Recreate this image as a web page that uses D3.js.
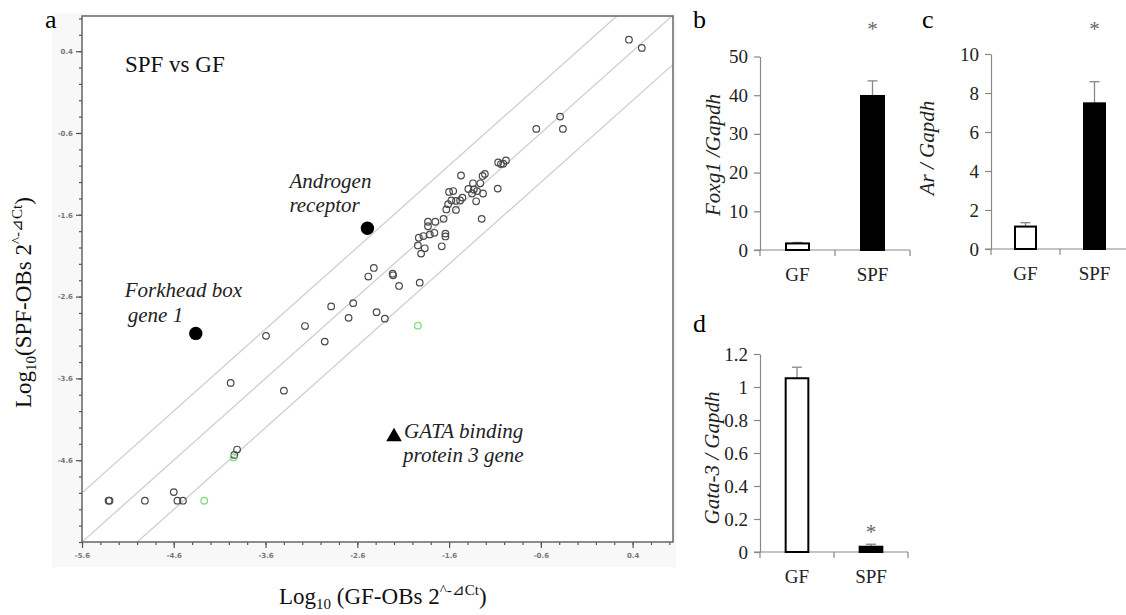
<!DOCTYPE html>
<html>
<head>
<meta charset="utf-8">
<script src="https://cdn.jsdelivr.net/npm/d3@7"></script>
<style>
body { margin: 0; background: #fff; }
svg { display: block; }
text { font-family: "Liberation Serif", "Times New Roman", serif; }
</style>
</head>
<body>
<svg id="fig" width="1126" height="615"></svg>
<script>
"use strict";

/* global d3 */

// panel a: log10 expression, GF (x) vs SPF (y)
var xTicksA = [-5.6, -4.6, -3.6, -2.6, -1.6, -0.6, 0.4];
var yTicksA = [0.4, -0.6, -1.6, -2.6, -3.6, -4.6];
var foldLines = [0.602, 0, -0.602];

var genePoints = [
    [0.36, 0.54], [0.50, 0.44],
    [-0.39, -0.40], [-0.65, -0.55], [-0.36, -0.55],
    [-1.065, -0.96], [-1.035, -0.98], [-1.01, -0.975], [-0.98, -0.935],
    [-1.07, -1.28],
    [-1.47, -1.12], [-1.26, -1.215], [-1.21, -1.10], [-1.235, -1.125],
    [-1.34, -1.215], [-1.39, -1.285], [-1.33, -1.29], [-1.295, -1.31],
    [-1.35, -1.34], [-1.23, -1.34], [-1.305, -1.435], [-1.245, -1.65],
    [-1.60, -1.32], [-1.555, -1.31],
    [-1.61, -1.47], [-1.575, -1.425], [-1.525, -1.43], [-1.48, -1.425], [-1.455, -1.39],
    [-1.63, -1.535], [-1.525, -1.54], [-1.66, -1.65],
    [-1.83, -1.685], [-1.83, -1.74], [-1.75, -1.685], [-1.81, -1.84],
    [-1.76, -1.82], [-1.88, -1.86], [-1.93, -1.88],
    [-1.64, -1.83], [-1.64, -1.865],
    [-1.94, -1.975], [-1.865, -2.01], [-1.905, -2.075], [-1.68, -1.985],
    [-2.215, -2.32], [-2.21, -2.34], [-2.145, -2.47], [-1.92, -2.43],
    [-2.42, -2.25], [-2.48, -2.355],
    [-2.39, -2.79], [-2.30, -2.87], [-2.645, -2.68], [-2.885, -2.72],
    [-2.695, -2.86], [-3.17, -2.96], [-2.955, -3.15], [-3.595, -3.08],
    [-3.98, -3.655], [-3.40, -3.75],
    [-3.91, -4.47], [-3.94, -4.535],
    [-5.31, -5.095], [-5.30, -5.095], [-4.915, -5.095], [-4.60, -4.99],
    [-4.56, -5.095], [-4.50, -5.095]
];
var greenPoints = [[-1.94, -2.955], [-3.948, -4.566], [-4.268, -5.095]];
var androgen = [-2.49, -1.765];
var forkhead = [-4.36, -3.05];
var gata3 = [-2.20, -4.30];

// panels b-d: qPCR ratios
var groups = ["GF", "SPF"];
var foxg1Mean = [1.7, 39.8];
var foxg1Err = [0.25, 3.9];
var foxg1Ticks = [0, 10, 20, 30, 40, 50];
var arMean = [1.15, 7.47];
var arErr = [0.2, 1.11];
var arTicks = [0, 2, 4, 6, 8, 10];
var gataMean = [1.053, 0.032];
var gataErr = [0.067, 0.015];
var gataTicks = [0, 0.2, 0.4, 0.6, 0.8, 1, 1.2];

var svg = d3.select("#fig");

// ---------- panel a ----------
var x = d3.scaleLinear().domain([-5.6, 0.84]).range([82, 673]);
var y = d3.scaleLinear().domain([-5.6, 0.83]).range([542, 16]);

svg.append("rect")
    .attr("x", 52).attr("y", 13).attr("width", 624).attr("height", 554)
    .attr("fill", "#f8f8f8");
svg.append("rect")
    .attr("x", x(-5.6)).attr("y", y(0.83))
    .attr("width", x(0.84) - x(-5.6)).attr("height", y(-5.6) - y(0.83))
    .attr("fill", "#fff");

svg.append("clipPath").attr("id", "plotClip")
  .append("rect")
    .attr("x", x(-5.6)).attr("y", y(0.83))
    .attr("width", x(0.84) - x(-5.6)).attr("height", y(-5.6) - y(0.83));

var minorX = d3.range(0, 33).map(function (i) { return -5.6 + i * 0.2; })
    .filter(function (d) { return d <= 0.84; });
var minorY = minorX.filter(function (d) { return d <= 0.83; });

function styleAxis(g) {
    g.select(".domain").remove();
    g.selectAll(".tick line").attr("stroke", "#555").attr("stroke-width", 1.2);
    g.selectAll(".tick text")
        .style("font-family", "'DejaVu Sans', Verdana, sans-serif")
        .attr("font-size", 7).attr("font-weight", "bold").attr("fill", "#777");
}

var fmt = function (d) { return d.toFixed(1); };

svg.append("g").attr("transform", "translate(0," + y(-5.6) + ")")
    .call(d3.axisBottom(x).tickValues(minorX).tickSize(3).tickFormat(""))
    .call(styleAxis);
svg.append("g").attr("transform", "translate(0," + y(-5.6) + ")")
    .call(d3.axisBottom(x).tickValues(xTicksA).tickSize(6).tickPadding(5).tickFormat(fmt))
    .call(styleAxis);
svg.append("g").attr("transform", "translate(" + x(-5.6) + ",0)")
    .call(d3.axisLeft(y).tickValues(minorY).tickSize(3).tickFormat(""))
    .call(styleAxis);
svg.append("g").attr("transform", "translate(" + x(-5.6) + ",0)")
    .call(d3.axisLeft(y).tickValues(yTicksA).tickSize(6).tickPadding(3).tickFormat(fmt))
    .call(styleAxis);

svg.append("g").attr("clip-path", "url(#plotClip)")
    .selectAll("line").data(foldLines).join("line")
    .attr("x1", x(-5.6)).attr("y1", function (c) { return y(-5.6 + c); })
    .attr("x2", x(0.84)).attr("y2", function (c) { return y(0.84 + c); })
    .attr("stroke", "#cfcfcf").attr("stroke-width", 1.3);

svg.append("rect")
    .attr("x", x(-5.6)).attr("y", y(0.83))
    .attr("width", x(0.84) - x(-5.6)).attr("height", y(-5.6) - y(0.83))
    .attr("fill", "none").attr("stroke", "#666").attr("stroke-width", 1.5);

svg.append("g").selectAll("circle").data(genePoints).join("circle")
    .attr("cx", function (d) { return x(d[0]); })
    .attr("cy", function (d) { return y(d[1]); })
    .attr("r", 3.3).attr("fill", "none")
    .attr("stroke", "#4a4a4a").attr("stroke-width", 1.2);

svg.append("g").selectAll("circle").data(greenPoints).join("circle")
    .attr("cx", function (d) { return x(d[0]); })
    .attr("cy", function (d) { return y(d[1]); })
    .attr("r", 3.3).attr("fill", "none")
    .attr("stroke", "#7fdc7f").attr("stroke-width", 1.3);

svg.append("g").selectAll("circle").data([androgen, forkhead]).join("circle")
    .attr("cx", function (d) { return x(d[0]); })
    .attr("cy", function (d) { return y(d[1]); })
    .attr("r", 6.7).attr("fill", "#000");

svg.append("path")
    .attr("d", d3.symbol(d3.symbolTriangle, 105)())
    .attr("transform", "translate(" + x(gata3[0]) + "," + (y(gata3[1]) + 1) + ")")
    .attr("fill", "#000");

function label(lines, px, py, italic) {
    var t = svg.append("text")
        .attr("font-size", 21)
        .attr("font-style", italic ? "italic" : "normal")
        .attr("fill", "#222");
    lines.forEach(function (l) {
        t.append("tspan").attr("x", px + l.dx).attr("y", py + l.dy).text(l.text);
    });
}

svg.append("text").attr("x", 125).attr("y", 72)
    .attr("font-size", 23).attr("fill", "#111").text("SPF vs GF");

label([{ text: "Androgen", dx: -78, dy: -40 }, { text: "receptor", dx: -78, dy: -16 }],
    x(androgen[0]), y(androgen[1]), true);
label([{ text: "Forkhead box", dx: -71, dy: -36 }, { text: "gene 1", dx: -68, dy: -11 }],
    x(forkhead[0]), y(forkhead[1]), true);
label([{ text: "GATA binding", dx: 10, dy: 2 }, { text: "protein 3 gene", dx: 9, dy: 26 }],
    x(gata3[0]), y(gata3[1]), true);

// axis titles with sub/superscripts
function logTitle(sel, lead, mid) {
    sel.append("tspan").text("Log");
    sel.append("tspan").attr("font-size", 15).attr("dy", 5).text("10");
    sel.append("tspan").attr("dy", -5).text(lead + mid + " 2");
    sel.append("tspan").attr("font-size", 15).attr("dy", -9).text("^-\u22BFCt");
    sel.append("tspan").attr("dy", 9).text(")");
}

svg.append("text").attr("x", 279).attr("y", 604)
    .attr("font-size", 23).attr("fill", "#111")
    .call(logTitle, " (", "GF-OBs");

svg.append("text").attr("transform", "translate(31,408) rotate(-90)")
    .attr("font-size", 23).attr("fill", "#111")
    .call(logTitle, "(", "SPF-OBs");

svg.append("text").attr("x", 45).attr("y", 28).attr("font-size", 26).text("a");

// ---------- panels b-d ----------
function barPanel(o) {
    var yb = d3.scaleLinear().domain([0, o.ticks[o.ticks.length - 1]])
        .range([o.y0, o.y1]);
    var xb = d3.scaleBand().domain(groups).range([o.x0, o.x1])
        .paddingInner(2 / 3).paddingOuter(1 / 3);
    var g = svg.append("g");

    var ax = g.append("g").attr("transform", "translate(" + o.x0 + ",0)")
        .call(d3.axisLeft(yb).tickValues(o.ticks).tickSize(6).tickSizeOuter(0)
            .tickPadding(6).tickFormat(function (d) { return String(d); }));
    ax.select(".domain").attr("stroke", "#888").attr("stroke-width", 1.2);
    ax.selectAll(".tick line").attr("stroke", "#888").attr("stroke-width", 1.2);
    ax.selectAll(".tick text")
        .style("font-family", "'Liberation Serif', 'Times New Roman', serif")
        .attr("font-size", 19).attr("fill", "#222");

    // category axis with boundary ticks
    var step = xb.step();
    g.append("line")
        .attr("x1", o.x0 - 6).attr("x2", o.x1)
        .attr("y1", o.y0).attr("y2", o.y0)
        .attr("stroke", "#888").attr("stroke-width", 1.2);
    g.selectAll(".btick").data([0, 1, 2]).join("line")
        .attr("x1", function (i) { return o.x0 + i * step; })
        .attr("x2", function (i) { return o.x0 + i * step; })
        .attr("y1", o.y0).attr("y2", o.y0 + 6)
        .attr("stroke", "#888").attr("stroke-width", 1.2);
    g.selectAll(".glabel").data(groups).join("text")
        .attr("x", function (d) { return xb(d) + xb.bandwidth() / 2; })
        .attr("y", o.y0 + 31)
        .attr("text-anchor", "middle").attr("font-size", 19).attr("fill", "#222")
        .text(function (d) { return d; });

    // error bars (upper half)
    var cx = function (i) { return xb(groups[i]) + xb.bandwidth() / 2; };
    g.selectAll(".err").data(o.means).join("line")
        .attr("x1", function (d, i) { return cx(i); })
        .attr("x2", function (d, i) { return cx(i); })
        .attr("y1", function (d) { return yb(d); })
        .attr("y2", function (d, i) { return yb(d + o.errs[i]); })
        .attr("stroke", "#888").attr("stroke-width", 1.3);
    g.selectAll(".cap").data(o.means).join("line")
        .attr("x1", function (d, i) { return cx(i) - 5; })
        .attr("x2", function (d, i) { return cx(i) + 5; })
        .attr("y1", function (d, i) { return yb(d + o.errs[i]); })
        .attr("y2", function (d, i) { return yb(d + o.errs[i]); })
        .attr("stroke", "#888").attr("stroke-width", 1.3);

    g.selectAll(".bar").data(o.means).join("rect")
        .attr("x", function (d, i) { return xb(groups[i]) + 1; })
        .attr("y", function (d) { return yb(d); })
        .attr("width", xb.bandwidth() - 2)
        .attr("height", function (d) { return yb(0) - yb(d); })
        .attr("fill", function (d, i) { return i === 0 ? "#fff" : "#000"; })
        .attr("stroke", "#000").attr("stroke-width", 2);

    g.append("text")
        .attr("x", cx(1)).attr("y", o.starY)
        .attr("text-anchor", "middle").attr("font-size", 21).attr("fill", "#666")
        .text("*");

    g.append("text")
        .attr("transform", "translate(" + o.titleX + "," + o.titleY + ") rotate(-90)")
        .attr("text-anchor", "middle").attr("font-size", 21)
        .attr("font-style", "italic").attr("fill", "#222")
        .text(o.title);

    g.append("text").attr("x", o.letterX).attr("y", o.letterY)
        .attr("font-size", 26).text(o.letter);
}

barPanel({
    x0: 760, x1: 910, y0: 250, y1: 56.5,
    ticks: foxg1Ticks, means: foxg1Mean, errs: foxg1Err,
    title: "Foxg1 /Gapdh", titleX: 720, titleY: 155,
    letter: "b", letterX: 693, letterY: 28, starY: 36
});
barPanel({
    x0: 991, x1: 1129, y0: 249, y1: 54,
    ticks: arTicks, means: arMean, errs: arErr,
    title: "Ar / Gapdh", titleX: 934, titleY: 148,
    letter: "c", letterX: 922, letterY: 28, starY: 36
});
barPanel({
    x0: 760, x1: 908, y0: 552, y1: 354,
    ticks: gataTicks, means: gataMean, errs: gataErr,
    title: "Gata-3 / Gapdh", titleX: 719, titleY: 458,
    letter: "d", letterX: 693, letterY: 332, starY: 539
});
</script>
</body>
</html>
